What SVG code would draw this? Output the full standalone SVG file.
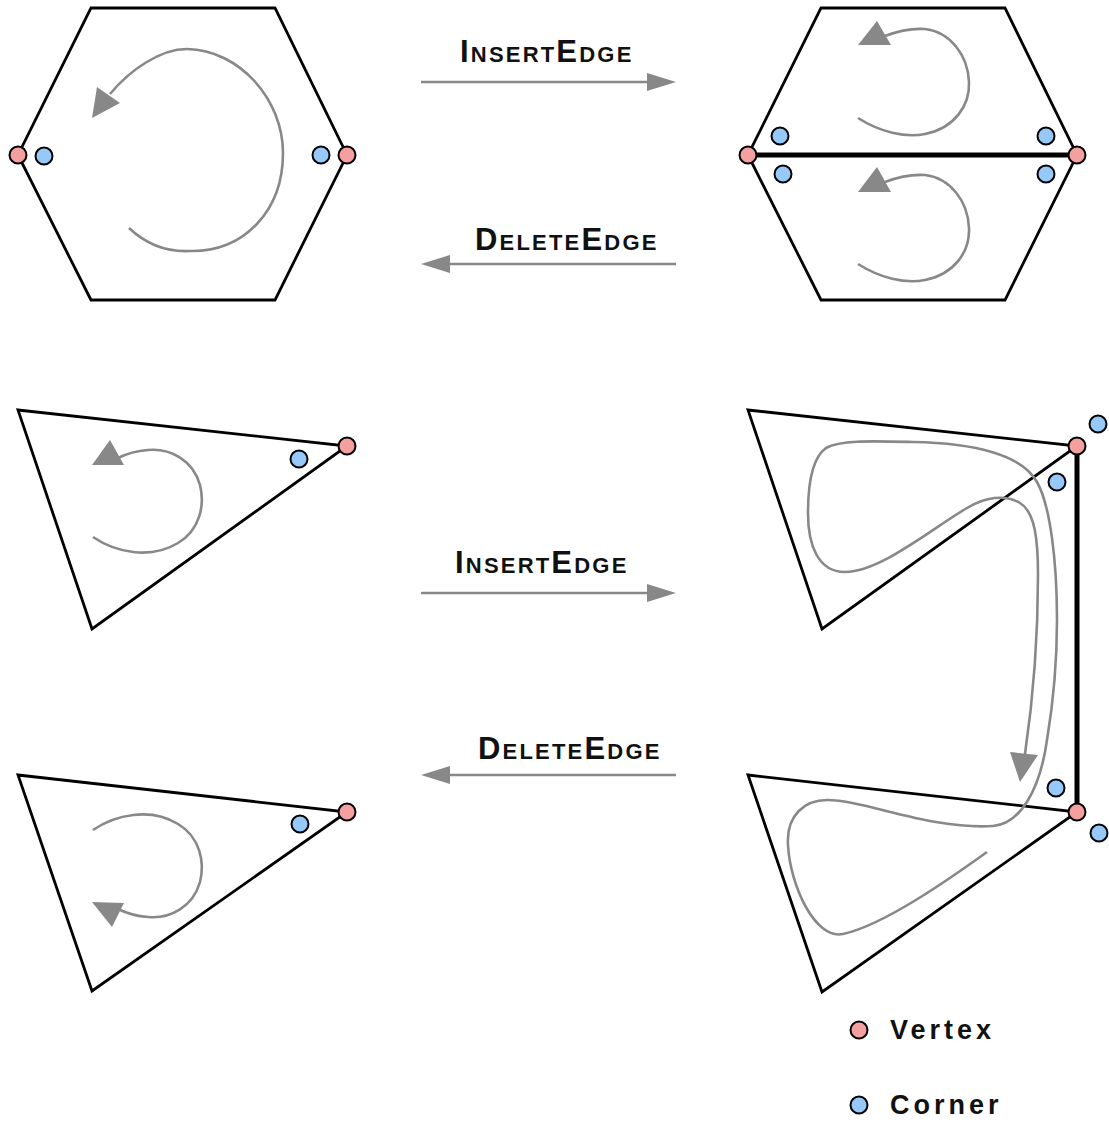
<svg xmlns="http://www.w3.org/2000/svg" width="1109" height="1122" viewBox="0 0 1109 1122">
<style>
  .face{fill:none;stroke:#000;stroke-width:2.8;stroke-linejoin:miter}
  .edge{fill:none;stroke:#000;stroke-width:5}
  .loop{fill:none;stroke:#888;stroke-width:2.6}
  .head{fill:#888;stroke:none}
  .conn{fill:none;stroke:#888;stroke-width:2.6}
  .vtx{fill:#f5a0a0;stroke:#000;stroke-width:2}
  .cor{fill:#96c8fa;stroke:#000;stroke-width:2}
  .lbl{font-family:"Liberation Sans",Arial,sans-serif;font-weight:bold;font-size:31px;font-variant:small-caps;letter-spacing:2.2px;fill:#111}
  .leg{font-family:"Liberation Sans",Arial,sans-serif;font-weight:bold;font-size:27px;letter-spacing:4px;fill:#111}
</style>

<g id="hex-left">
  <polygon class="face" points="91,8 275,8 347,155 275,300 91,300 18,155"/>
  <path class="loop" d="M129,228 C148,246 170,252 190,251 C245,252 283,210 283,153 C283,100 240,50 187,49 C160,49 130,70 110,94"/>
  <polygon class="head" points="92,118 97,87 120,103"/>
  <circle class="vtx" cx="18" cy="155" r="8.5"/>
  <circle class="cor" cx="44" cy="156" r="8.5"/>
  <circle class="cor" cx="321" cy="155" r="8.5"/>
  <circle class="vtx" cx="347" cy="155" r="8.5"/>
</g>

<g id="hex-right">
  <polygon class="face" points="821,8 1005,8 1077,155 1005,300 821,300 748,155"/>
  <line class="edge" x1="748" y1="155" x2="1077" y2="155"/>
  <path class="loop" d="M858,118 C880,132 905,138 925,134 C955,128 970,105 969,82 C968,55 950,32 925,29 C910,28 898,31 885,36"/>
  <polygon class="head" points="858,45 877,21 891,45"/>
  <path class="loop" d="M858,264 C880,278 905,284 925,280 C955,274 970,251 969,228 C968,201 950,178 925,175 C910,174 898,177 885,182"/>
  <polygon class="head" points="858,192 877,167 891,192"/>
  <circle class="vtx" cx="748" cy="155" r="8.5"/>
  <circle class="vtx" cx="1077" cy="155" r="8.5"/>
  <circle class="cor" cx="780" cy="136" r="8.5"/>
  <circle class="cor" cx="783" cy="174" r="8.5"/>
  <circle class="cor" cx="1046" cy="136" r="8.5"/>
  <circle class="cor" cx="1046" cy="174" r="8.5"/>
</g>

<g id="tri-left-top">
  <polygon class="face" points="18,410 347,446 92,629"/>
  <path class="loop" d="M93,537 C115,552 150,560 178,543 C200,530 205,505 200,485 C193,460 170,448 148,450 C135,451 126,454 118,458"/>
  <polygon class="head" points="92,465 110,440 124,465"/>
  <circle class="cor" cx="299" cy="459" r="8.5"/>
  <circle class="vtx" cx="347" cy="446" r="8.5"/>
</g>

<g id="tri-left-bottom">
  <polygon class="face" points="18,775 347,812 92,991"/>
  <path class="loop" d="M93,830 C115,815 150,807 178,824 C200,837 205,862 200,882 C193,907 170,919 148,917 C135,916 126,913 118,909"/>
  <polygon class="head" points="92,902 112,927 124,903"/>
  <circle class="cor" cx="300" cy="824" r="8.5"/>
  <circle class="vtx" cx="347" cy="812" r="8.5"/>
</g>

<g id="tri-right-pair">
  <polygon class="face" points="748,410 1077,446 822,629"/>
  <polygon class="face" points="748,775 1077,812 822,992"/>
  <line class="edge" x1="1077" y1="446" x2="1077" y2="812"/>
  <path class="loop" d="M987,852 C955,875 885,925 843,934 C815,940 790,885 788,845 C786,815 805,800 827,800 C865,800 930,830 993,826 C1020,824 1040,790 1047,740 C1052,710 1057,665 1057,620 C1057,560 1050,505 1037,482 C1022,455 975,443 913,442 C870,441 840,440 826,448 C812,458 808,485 808,513 C808,545 818,572 845,572 C880,572 930,530 967,508 C985,497 1005,494 1020,503 C1035,512 1038,540 1038,575 C1038,650 1030,720 1025,754"/>
  <polygon class="head" points="1010,752 1038,755 1020,782"/>
  <circle class="vtx" cx="1077" cy="446" r="8.5"/>
  <circle class="vtx" cx="1077" cy="812" r="8.5"/>
  <circle class="cor" cx="1098" cy="424" r="8.5"/>
  <circle class="cor" cx="1057" cy="482" r="8.5"/>
  <circle class="cor" cx="1056" cy="788" r="8.5"/>
  <circle class="cor" cx="1099" cy="833" r="8.5"/>
</g>

<g id="connectors">
  <line class="conn" x1="421" y1="82" x2="650" y2="82"/>
  <polygon class="head" points="676,82 647,73 647,91"/>
  <line class="conn" x1="676" y1="264" x2="447" y2="264"/>
  <polygon class="head" points="421,264 450,255 450,273"/>
  <line class="conn" x1="421" y1="593" x2="650" y2="593"/>
  <polygon class="head" points="676,593 647,584 647,602"/>
  <line class="conn" x1="676" y1="775" x2="447" y2="775"/>
  <polygon class="head" points="421,775 450,766 450,784"/>
</g>

<g id="labels">
  <text class="lbl" x="460" y="62">InsertEdge</text>
  <text class="lbl" x="475" y="250">DeleteEdge</text>
  <text class="lbl" x="455" y="573">InsertEdge</text>
  <text class="lbl" x="478" y="759">DeleteEdge</text>
</g>

<g id="legend">
  <circle class="vtx" cx="859" cy="1030" r="8.5"/>
  <text class="leg" x="890" y="1039">Vertex</text>
  <circle class="cor" cx="859" cy="1105" r="8.5"/>
  <text class="leg" x="890" y="1114">Corner</text>
</g>
</svg>
